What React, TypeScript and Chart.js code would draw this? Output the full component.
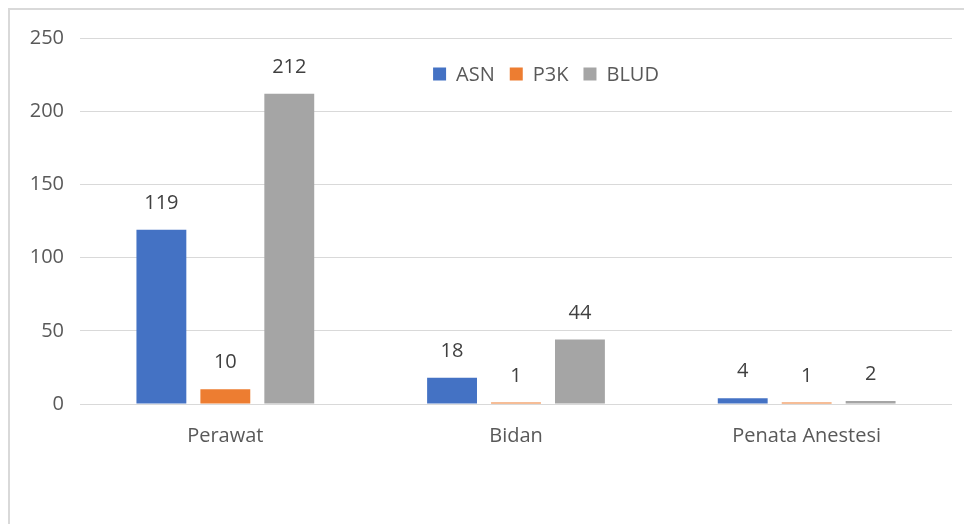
import React, { useEffect, useRef } from "react";
import { Chart, registerables } from "chart.js";

Chart.register(...registerables);

const categories = ["Perawat", "Bidan", "Penata Anestesi"];
const asnValues = [119, 18, 4];
const p3kValues = [10, 1, 1];
const bludValues = [212, 44, 2];
const seriesNames = ["ASN", "P3K", "BLUD"];
const seriesColors = ["#4472C4", "#ED7D31", "#A5A5A5"];

const FONT = "'Open Sans', 'Noto Sans', sans-serif";
const TEXT_COLOR = "#595959";
const FONT_SIZE = 20;

const dataLabelsPlugin = {
  id: "dataLabels",
  afterDatasetsDraw(chart: any) {
    const ctx = chart.ctx;
    ctx.save();
    ctx.font = `${FONT_SIZE}px ${FONT}`;
    ctx.fillStyle = "#404040";
    ctx.textAlign = "center";
    ctx.textBaseline = "alphabetic";
    chart.data.datasets.forEach((ds: any, i: number) => {
      const meta = chart.getDatasetMeta(i);
      meta.data.forEach((bar: any, j: number) => {
        ctx.fillText(String(ds.data[j]), bar.x, bar.y - 21);
      });
    });
    ctx.restore();
  },
};

const legendPlugin = {
  id: "customLegend",
  afterDraw(chart: any) {
    const ctx = chart.ctx;
    const area = chart.chartArea;
    ctx.save();
    ctx.font = `${FONT_SIZE}px ${FONT}`;
    ctx.textBaseline = "middle";
    ctx.textAlign = "left";
    const box = 13;
    const gapBoxText = 10;
    const gapItems = 15;
    const widths = chart.data.datasets.map((ds: any) => ctx.measureText(ds.label).width);
    const total = widths.reduce((a: number, w: number) => a + box + gapBoxText + w, 0) + gapItems * (widths.length - 1);
    let x = (area.left + area.right) / 2 + 30 - total / 2;
    const y = area.top + 36;
    chart.data.datasets.forEach((ds: any, i: number) => {
      ctx.fillStyle = ds.backgroundColor;
      ctx.fillRect(x, y - box / 2, box, box);
      x += box + gapBoxText;
      ctx.fillStyle = TEXT_COLOR;
      ctx.fillText(ds.label, x, y + 1);
      x += widths[i] + gapItems;
    });
    ctx.restore();
  },
};

export default function App() {
  const canvasRef = useRef<HTMLCanvasElement>(null);

  useEffect(() => {
    if (!canvasRef.current) return;
    const values = [asnValues, p3kValues, bludValues];
    const chart = new Chart(canvasRef.current, {
      type: "bar",
      data: {
        labels: categories,
        datasets: seriesNames.map((name, i) => ({
          label: name,
          data: values[i],
          backgroundColor: seriesColors[i],
          borderWidth: 0,
          categoryPercentage: 0.66,
          barPercentage: 0.78,
        })),
      },
      options: {
        animation: false,
        responsive: false,
        maintainAspectRatio: false,
        layout: { padding: { top: 27, right: 20, bottom: 0, left: 0 } },
        plugins: {
          legend: { display: false },
          tooltip: { enabled: false },
          title: { display: false },
        },
        scales: {
          x: {
            grid: { display: false, drawTicks: false },
            border: { display: false },
            ticks: {
              color: TEXT_COLOR,
              font: { family: FONT, size: FONT_SIZE },
              padding: 20,
            },
            afterFit: (scale: any) => {
              scale.height = 120;
            },
          },
          y: {
            min: 0,
            max: 250,
            ticks: {
              stepSize: 50,
              color: TEXT_COLOR,
              font: { family: FONT, size: FONT_SIZE },
              padding: 16,
            },
            grid: { color: "#d9d9d9", lineWidth: 1, drawTicks: false },
            border: { display: false },
            afterFit: (scale: any) => {
              scale.width = 70;
            },
          },
        },
      },
      plugins: [dataLabelsPlugin, legendPlugin],
    });
    return () => chart.destroy();
  }, []);

  return (
    <div
      style={{
        position: "relative",
        width: 964,
        height: 516,
        borderLeft: "2px solid #d9d9d9",
        borderTop: "2px solid #d9d9d9",
        boxSizing: "border-box",
        background: "#fff",
      }}
    >
      <canvas ref={canvasRef} width={962} height={514} style={{ display: "block" }} />
    </div>
  );
}
